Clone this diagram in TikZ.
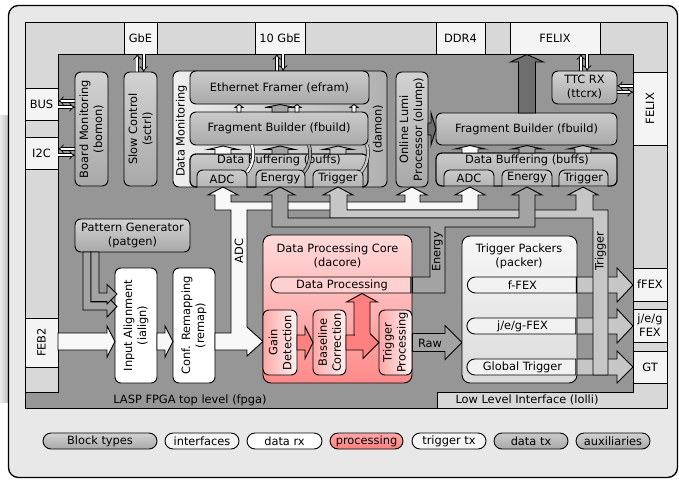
\documentclass[tikz,border=0pt]{standalone}
\usepackage{fontspec}
\setmainfont{DejaVu Sans}
\usetikzlibrary{arrows.meta,shapes.misc}
\definecolor{outerc}{HTML}{E8E8E8}
\definecolor{lollic}{HTML}{D8D8D8}
\definecolor{fpgac}{HTML}{969696}
\definecolor{ifc}{HTML}{F4F4F4}
\definecolor{auxT}{HTML}{D2D2D2}
\definecolor{auxB}{HTML}{A8A8A8}
\definecolor{dtxT}{HTML}{CACACA}
\definecolor{dtxB}{HTML}{A9A9A9}
\definecolor{adcc}{HTML}{F8F8F8}
\definecolor{enec}{HTML}{A3A3A3}
\definecolor{trgc}{HTML}{C6C6C6}
\definecolor{darkc}{HTML}{6E6E6E}
\definecolor{pinkT}{HTML}{FFDADA}
\definecolor{pinkB}{HTML}{FF8A8A}
\definecolor{pinkA}{HTML}{FF8080}
\definecolor{pinkL}{HTML}{FFA8A8}
\definecolor{pinkW}{HTML}{FFF2F2}
\definecolor{pinkP}{HTML}{FFD0D0}
\definecolor{packT}{HTML}{F7F7F7}
\definecolor{packB}{HTML}{DADADA}
\definecolor{pillc}{HTML}{F2F2F2}

\newcommand{\Blk}[7]{\node[#6, minimum width={(#4-#2)*1pt}, minimum height={(#5-#3)*1pt}] (#1) at ({(#2+#4)/2},{(#3+#5)/2}) {#7};}
% x, tip y, base y, bottom y, half head, half shaft, colour
\newcommand{\FatUp}[7]{\filldraw[edge, fill=#7] ({#1-#6},#4) -- ({#1-#6},#3) -- ({#1-#5},#3) -- (#1,#2) -- ({#1+#5},#3) -- ({#1+#6},#3) -- ({#1+#6},#4) -- cycle;}
% y, tip x, base x, start x, half head, half shaft, colour
\newcommand{\FatRight}[7]{\filldraw[edge, fill=#7] (#4,{#1-#6}) -- (#3,{#1-#6}) -- (#3,{#1-#5}) -- (#2,#1) -- (#3,{#1+#5}) -- (#3,{#1+#6}) -- (#4,{#1+#6}) -- cycle;}
\newcommand{\DblV}[3]{\draw[dbl,-{Implies}] ({#1-3.2},#3) -- ({#1-3.2},#2); \draw[dbl,-{Implies}] ({#1+3.2},#2) -- ({#1+3.2},#3);}
\newcommand{\DblH}[3]{\draw[dbl,-{Implies}] (#3,{#1-3.2}) -- (#2,{#1-3.2}); \draw[dbl,-{Implies}] (#2,{#1+3.2}) -- (#3,{#1+3.2});}

\begin{document}
\begin{tikzpicture}[x=1pt,y=-1pt,
  every node/.style={font=\fontsize{11.4}{14}\selectfont, inner sep=0pt, align=center},
  edge/.style={line width=0.9pt, line join=miter},
  box/.style={draw, line width=0.9pt, rounded corners=6pt},
  iface/.style={draw, line width=0.9pt, fill=ifc},
  aux/.style={box, top color=auxT, bottom color=auxB},
  dtx/.style={box, top color=dtxT, bottom color=dtxB},
  rx/.style={box, fill=white},
  damonst/.style={box, left color=gray!12, right color=gray!62},
  procst/.style={box, rounded corners=8pt, top color=pinkT, bottom color=pinkB},
  subp/.style={box, left color=pinkL, right color=pinkW},
  packst/.style={box, rounded corners=8pt, top color=packT, bottom color=packB},
  pill/.style={rounded rectangle, rounded rectangle right arc=none, draw, line width=0.9pt},
  legend/.style={rounded rectangle, draw, line width=0.9pt, minimum height=16pt},
  dbl/.style={double=white, double distance=2.2pt, line width=0.7pt},
  curve/.style={double distance=2.4pt, line width=0.6pt}
]
\useasboundingbox (0,0) rectangle (679,479);
\fill[left color=gray!15, right color=gray!50] (0,115) rectangle (8,402);
\node[draw, line width=1.3pt, rounded corners=10pt, fill=outerc, minimum width=669pt, minimum height=472pt] (outer) at (343,241.5) {};
\Blk{lolli}{25}{22}{667}{408}{draw, line width=0.9pt, fill=lollic}{}
\draw[edge, fill=fpgac] (58,54) -- (633,54) -- (633,392) -- (437,392) -- (437,408) -- (25,408) -- (25,392) -- (58,392) -- cycle;
\node (fpgalabel) at (190,400) {LASP FPGA top level (fpga)};
\node (lollilabel) at (527,400) {Low Level Interface (lolli)};

% interfaces
\Blk{gbe}{124}{22}{157}{54}{iface}{GbE}
\Blk{tengbe}{255}{22}{305}{54}{iface}{10 GbE}
\Blk{ddr}{436}{22}{485}{54}{iface}{DDR4}
\Blk{felixT}{510}{22}{600}{54}{iface}{FELIX}
\Blk{felixR}{633}{72}{667}{145}{iface}{}
\node[rotate=90] (felixRt) at (felixR) {FELIX};
\Blk{bus}{25}{88}{58}{120}{iface}{BUS}
\Blk{itc}{25}{137}{58}{169}{iface}{I2C}
\Blk{feb}{25}{318}{58}{367}{iface}{}
\node[rotate=90] (febt) at (feb) {FEB2};
\Blk{ffex}{633}{268}{667}{301}{iface}{fFEX}
\Blk{jeg}{633}{309}{667}{342}{iface}{j/e/g\\FEX}
\Blk{gt}{633}{351}{667}{383}{iface}{GT}

% interface arrows
\DblV{140.5}{54}{72}
\DblV{280}{54}{71}
\DblV{584}{54}{71}
\DblH{104}{58}{75}
\DblH{152}{58}{75}
\DblH{89}{617}{633}

% auxiliaries
\Blk{bomon}{75}{72}{108}{186}{aux}{}
\node[rotate=90] (bomont) at (bomon) {Board Monitoring\\(bomon)};
\Blk{sctrl}{124}{72}{157}{186}{aux}{}
\node[rotate=90] (sctrlt) at (sctrl) {Slow Control\\(sctrl)};
\Blk{olump}{396}{72}{428}{187}{aux}{}
\node[rotate=90] (olumpt) at (olump) {Online Lumi\\Processor (olump)};
\Blk{ttcrx}{552}{71}{617}{104}{aux}{TTC RX\\(ttcrx)}
\Blk{patgen}{75}{219}{190}{252}{aux}{Pattern Generator\\(patgen)}

% data monitoring
\Blk{damon}{173}{71}{387}{187}{damonst}{}
\node[rotate=90] (damonl) at (181.5,131) {Data Monitoring};
\node[rotate=90] (damonr) at (378,129) {(damon)};
\Blk{efram}{190}{71}{369}{104}{dtx}{Ethernet Framer (efram)}
\Blk{fbuildL}{190}{112}{368}{145}{dtx}{Fragment Builder (fbuild)}
\Blk{buffsL}{190}{154}{368}{187}{dtx}{}
\begin{scope}
\clip (185,150) rectangle (372,187);
\Blk{adcL}{197}{170}{247}{196}{dtx}{}
\Blk{eneL}{256}{170}{305}{196}{dtx}{}
\Blk{trgL}{313}{170}{363}{196}{dtx}{}
\end{scope}
\draw[line width=0.9pt, rounded corners=6pt] (190,154) rectangle (368,187);
\node (buffsLt) at (279,160.5) {Data Buffering (buffs)};
\node (adcLt) at (222,179) {ADC};
\node (eneLt) at (280.5,178.5) {Energy};
\node (trgLt) at (338,178.5) {Trigger};
\FatUp{223}{146}{149.5}{154}{15}{8}{adcc}
\FatUp{280}{146}{149.5}{154}{15}{8}{enec}
\FatUp{338}{146}{149.5}{154}{15}{8}{trgc}
\FatUp{239}{104.5}{107.5}{112}{4}{2}{adcc}
\FatUp{280}{104.5}{107.5}{112}{15}{8}{enec}
\FatUp{297}{104.5}{107.5}{112}{4}{2}{adcc}
\FatUp{354}{104.5}{107.5}{112}{4}{2}{adcc}
\draw[curve, double=adcc] (247,172) .. controls (254,164) and (254,153) .. (252,145);
\draw[curve, double=enec] (304,172) .. controls (311,164) and (311,153) .. (309,145);
\draw[curve, double=trgc] (361,172) .. controls (368,164) and (369,153) .. (367,145);

% right data path
\Blk{fbuildR}{436}{113}{617}{145}{dtx}{Fragment Builder (fbuild)}
\Blk{buffsR}{436}{153}{617}{186}{dtx}{}
\begin{scope}
\clip (430,150) rectangle (620,186);
\Blk{adcR}{444}{170}{494}{195}{dtx}{}
\Blk{eneR}{502}{170}{552}{195}{dtx}{}
\Blk{trgR}{559}{170}{608}{195}{dtx}{}
\end{scope}
\draw[line width=0.9pt, rounded corners=6pt] (436,153) rectangle (617,186);
\node (buffsRt) at (527,160.5) {Data Buffering (buffs)};
\node (adcRt) at (469,178.5) {ADC};
\node (eneRt) at (527,178) {Energy};
\node (trgRt) at (583.5,178) {Trigger};
\FatUp{470}{145.5}{149}{153}{15}{8}{adcc}
\FatUp{527}{145.5}{149}{153}{15}{8}{enec}
\FatUp{583}{145.5}{149}{153}{15}{8}{trgc}
\FatUp{527}{54.5}{62}{113}{16.5}{8.5}{darkc}
\FatRight{129}{436}{431}{428}{16}{6}{darkc}

% input chain
\Blk{ialign}{115}{268}{157}{383}{rx}{}
\node[rotate=90] (ialignt) at (ialign) {Input Alignment\\(ialign)};
\Blk{remap}{173}{268}{215}{383}{rx}{}
\node[rotate=90] (remapt) at (remap) {Conf. Remapping\\(remap)};
\FatRight{341.5}{115}{107}{58}{15.5}{8.5}{adcc}
\FatRight{341.5}{173}{165}{157}{15.5}{8.5}{adcc}
\filldraw[edge, fill=enec] (83,252) -- (83,310) -- (107,310) -- (107,317) -- (117,306.5) -- (107,296) -- (107,302) -- (91,302) -- (91,252) -- cycle;
\filldraw[edge, fill=enec] (91,252) -- (91,301.5) -- (107,301.5) -- (107,304) -- (117,294) -- (107,284.5) -- (107,293) -- (99,293) -- (99,252) -- cycle;

% ADC flow
\filldraw[edge, fill=adcc] (215,333) -- (231,333) -- (231,210) -- (215,210) -- (215,195) -- (208,195) -- (223,187) -- (238,195) -- (231,195) -- (231,202) -- (405,202) -- (405,195) -- (397,195) -- (412,187) -- (427,195) -- (420,195) -- (420,202) -- (462,202) -- (462,195) -- (455,195) -- (470,187) -- (485,195) -- (478,195) -- (478,210) -- (247,210) -- (247,327) -- (263,341.5) -- (247,356) -- (247,350) -- (215,350) -- cycle;
\node[rotate=90] (adclab) at (239,251) {ADC};

% processing core
\Blk{dacore}{263}{235}{412}{383}{procst}{}
\node (dacoret) at (337.5,255.5) {Data Processing Core\\(dacore)};
\node[pill, fill=pinkP, minimum width=140pt, minimum height=16pt] (dproc) at (342,285) {Data Processing};
\Blk{gain}{263}{310}{297}{375}{subp}{}
\node[rotate=90] (gaint) at (gain) {Gain\\Detection};
\Blk{basel}{313}{310}{346}{375}{subp}{}
\node[rotate=90] (baselt) at (basel) {Baseline\\Correction};
\Blk{trigp}{379}{310}{412}{375}{subp}{}
\node[rotate=90] (trigpt) at (trigp) {Trigger\\Processing};
\FatRight{342.5}{313}{305}{297}{16}{7.5}{pinkA}
\FatRight{342.5}{379}{363}{346}{16}{7.5}{pinkA}
\FatUp{362}{293.5}{302}{335}{15.5}{8}{pinkA}
\fill[pinkA] (354.5,333) rectangle (369.5,338);

% raw
\FatRight{342.5}{462}{445}{412.4}{17}{9}{enec}
\node (rawt) at (430,343) {Raw};

% trigger packers
\FatRight{285}{633}{617}{570}{17}{8}{trgc}
\FatRight{326}{633}{617}{570}{17}{8}{trgc}
\FatRight{367}{633}{617}{570}{16}{8}{trgc}
\Blk{packer}{462}{236}{577}{383}{packst}{}
\node (packert) at (519,256) {Trigger Packers\\(packer)};
\node[pill, fill=pillc, minimum width=109pt, minimum height=16pt] (ffexp) at (522.5,285) {f-FEX};
\node[pill, fill=pillc, minimum width=109pt, minimum height=16pt] (jegp) at (522.5,326) {j/e/g-FEX};
\node[pill, fill=pillc, minimum width=109pt, minimum height=16pt] (gtp) at (522.5,367) {Global Trigger};

% trigger flow
\filldraw[edge, fill=trgc] (593,375) -- (593,218) -- (330,218) -- (330,195) -- (323,195) -- (338,187) -- (353,195) -- (347,195) -- (347,210) -- (576,210) -- (576,195) -- (568,195) -- (583,187) -- (598,195) -- (593,195) -- (593,210) -- (608,210) -- (608,375) -- cycle;
\node[rotate=90] (trglab) at (600.5,251) {Trigger};

% energy flow
\filldraw[edge, fill=enec] (412.4,277) -- (430,277) -- (430,227) -- (272,227) -- (272,195) -- (265,195) -- (280,187) -- (295,195) -- (288,195) -- (288,218) -- (519,218) -- (519,195) -- (512,195) -- (527,187) -- (542,195) -- (535,195) -- (535,227) -- (445,227) -- (445,293) -- (412.4,293) -- cycle;
\node[rotate=90] (enelab) at (437.5,252) {Energy};

% legend
\node[legend, top color=auxT, bottom color=auxB, minimum width=114pt] (lg1) at (100,441) {Block types};
\node[legend, fill=ifc, minimum width=74pt] (lg2) at (202,441) {interfaces};
\node[legend, fill=white, minimum width=75pt] (lg3) at (284.5,441) {data rx};
\node[legend, top color=pinkL, bottom color=pinkA, minimum width=73pt] (lg4) at (366.5,441) {processing};
\node[legend, fill=packT, minimum width=74pt] (lg5) at (449,441) {trigger tx};
\node[legend, top color=dtxT, bottom color=dtxB, minimum width=74pt] (lg6) at (531,441) {data tx};
\node[legend, top color=auxT, bottom color=auxB, minimum width=74pt] (lg7) at (613,441) {auxiliaries};
\end{tikzpicture}
\end{document}
